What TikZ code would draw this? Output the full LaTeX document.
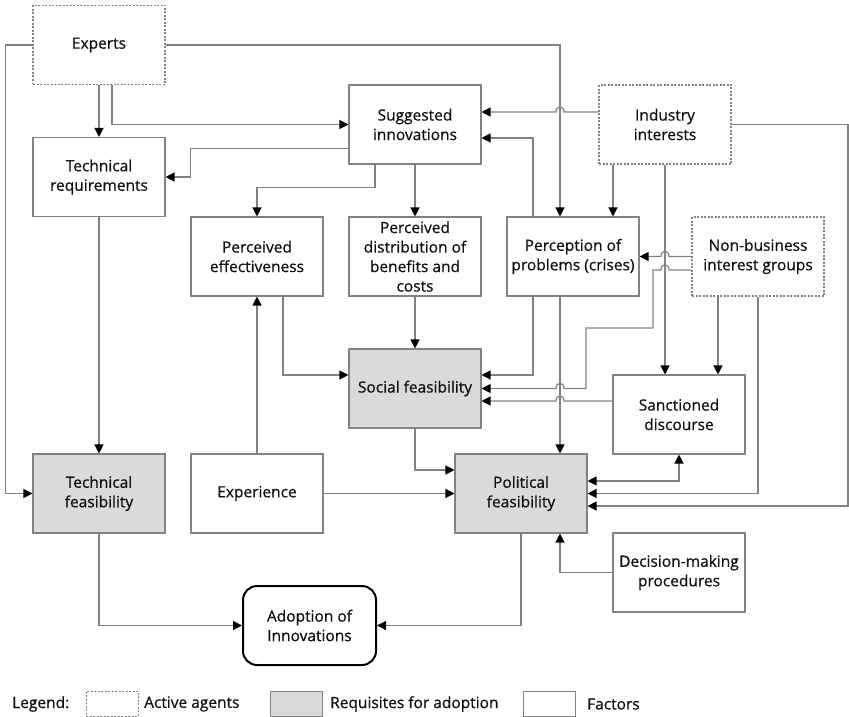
\documentclass[tikz,border=0pt]{standalone}
\usepackage{fontspec}
\setmainfont{Open Sans}[FakeBold=0.6]
\usetikzlibrary{arrows.meta,calc}
\definecolor{linegray}{RGB}{130,130,130}
\definecolor{reqfill}{RGB}{218,218,218}
\definecolor{txt}{RGB}{15,15,15}
\begin{document}
\begin{tikzpicture}[x=1pt,y=-1pt,
  box/.style={draw=linegray, line width=1.1pt, minimum width=132pt, minimum height=79pt, inner sep=0pt, align=center, font=\fontsize{15.5}{19.5}\selectfont, text=txt},
  agent/.style={box, dash pattern=on 2pt off 1.5pt},
  req/.style={box, fill=reqfill},
  final/.style={box, draw=black, line width=2pt, rounded corners=14pt, minimum width=133pt},
  lbox/.style={draw=linegray, line width=1pt, minimum width=52pt, minimum height=25pt, inner sep=0pt},
  ltext/.style={anchor=west, inner sep=0pt, font=\fontsize{15.5}{19.5}\selectfont, text=txt},
  link/.style={draw=linegray, line width=1.2pt, -{Triangle[length=9pt,width=9pt,color=black]}},
  blink/.style={draw=linegray, line width=1.2pt, {Triangle[length=9pt,width=9pt,color=black]}-{Triangle[length=9pt,width=9pt,color=black]}},
]
\useasboundingbox (0,0) rectangle (849,717);

% nodes
\node[agent] (exp) at (99,45) {Experts};
\node[box] (tr) at (99,177) {Technical\\requirements};
\node[box] (sug) at (415,124.5) {Suggested\\innovations};
\node[agent] (ind) at (665,124.5) {Industry\\interests};
\node[box] (pe) at (257,256.5) {Perceived\\effectiveness};
\node[box] (pd) at (415,256.5) {Perceived\\distribution of\\benefits and\\costs};
\node[box] (pp) at (573,256.5) {Perception of\\problems (crises)};
\node[agent] (nb) at (758,256.5) {Non-business\\interest groups};
\node[req] (sf) at (415,388.5) {Social feasibility};
\node[box] (sd) at (679,414.5) {Sanctioned\\discourse};
\node[req] (tf) at (99,493.5) {Technical\\feasibility};
\node[box] (ex) at (257,493.5) {Experience};
\node[req] (pf) at (521,493.5) {Political\\feasibility};
\node[box] (dm) at (679,572.5) {Decision-making\\procedures};
\node[final] (ad) at (309.5,625.5) {Adoption of\\Innovations};

% connectors
\draw[link] (exp.west) -- ++(-27,0) |- (tf.west);
\draw[link] (exp.east) -| ([xshift=-13]pp.north);
\draw[link] (exp.south) -- (tr.north);
\draw[link] ([xshift=13]exp.south) |- (sug.west);
\draw[link] ([yshift=-24]sug.west) -- ++(-158,0) |- (tr.east);
\draw[link] ([xshift=-40]sug.south) -- ++(0,23) -| (pe.north);
\draw[link] (sug.south) -- (pd.north);
\draw[link] ([yshift=12.5]ind.west) -- (564,112) .. controls (564,105) and (556,105) .. (556,112) -- ([yshift=12.5]sug.east);
\draw[link] ([xshift=-40]pp.north) |- ([yshift=-13.5]sug.east);
\draw[link] ([xshift=-52]ind.south) -- ([xshift=40]pp.north);
\draw[link] (ind.south) -- ([xshift=-14]sd.north);
\draw[link] (ind.east) -- (848,124.5) |- ([yshift=-12.5]pf.east);
\draw[link] (nb.west) -- (669,256.5) .. controls (669,249.5) and (661,249.5) .. (661,256.5) -- (pp.east);
\draw[link] ([yshift=-13.5]nb.west) -- (669,270) .. controls (669,263) and (661,263) .. (661,270) -- (653,270) -- (653,328) -- (586,328) -- (586,388.5) -- (564,388.5) .. controls (564,381.5) and (556,381.5) .. (556,388.5) -- (sf.east);
\draw[link] ([xshift=-40]pp.south) |- ([yshift=13.5]sf.east);
\draw[link] ([yshift=13.5]sd.west) -- (564,401) .. controls (564,394) and (556,394) .. (556,401) -- ([yshift=-12.5]sf.east);
\draw[link] ([xshift=-13]pp.south) -- ([xshift=39]pf.north);
\draw[link] ([xshift=-40]nb.south) -- ([xshift=39]sd.north);
\draw[link] (nb.south) |- (pf.east);
\draw[blink] (sd.south) |- ([yshift=12.5]pf.east);
\draw[link] ([xshift=26]pe.south) |- ([yshift=13.5]sf.west);
\draw[link] (pd.south) -- (sf.north);
\draw[link] (sf.south) |- ([yshift=23.5]pf.west);
\draw[link] (ex.east) -- (pf.west);
\draw[link] (ex.north) -- (pe.south);
\draw[link] (tr.south) -- (tf.north);
\draw[link] (tf.south) |- (ad.west);
\draw[link] (pf.south) |- (ad.east);
\draw[link] (dm.west) -| ([xshift=39]pf.south);

% legend
\node[ltext] (lg) at (12,704) {Legend:};
\node[lbox, dash pattern=on 2pt off 1.5pt] (lb1) at (112,703.5) {};
\node[ltext] (lt1) at (144,704) {Active agents};
\node[lbox, fill=reqfill] (lb2) at (296.5,703.5) {};
\node[ltext] (lt2) at (330,704) {Requisites for adoption};
\node[lbox] (lb3) at (549.5,703.5) {};
\node[ltext] (lt3) at (587,704) {Factors};
\end{tikzpicture}
\end{document}
